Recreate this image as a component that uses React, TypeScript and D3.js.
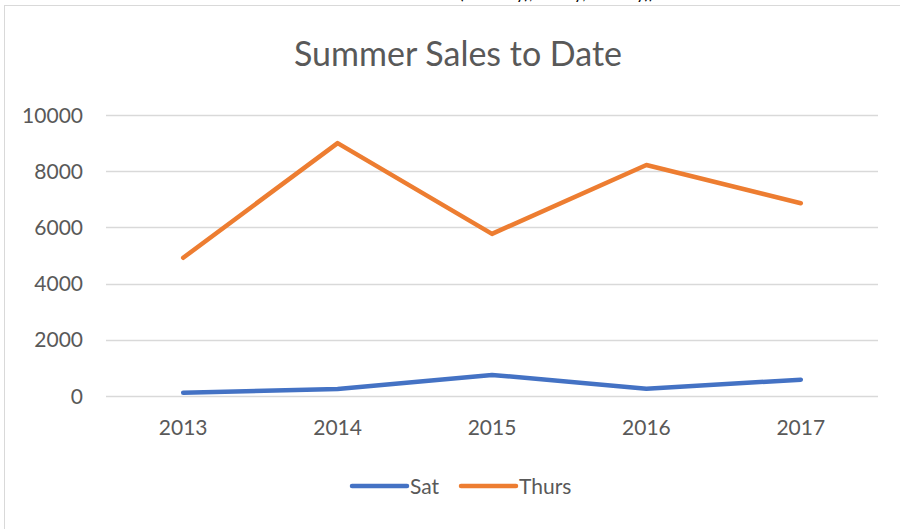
import React, { useRef, useEffect } from "react";
import * as d3 from "d3";

const years = ["2013", "2014", "2015", "2016", "2017"];
const satValues = [120, 250, 750, 260, 580];
const thursValues = [4920, 9000, 5770, 8220, 6860];
const yTicks = [0, 2000, 4000, 6000, 8000, 10000];

const width = 900;
const height = 529;
const margin = { top: 115, right: 22, bottom: 133, left: 106 }; // plot area

const App = () => {
  const svgRef = useRef<SVGSVGElement>(null);

  useEffect(() => {
    const svg = d3.select(svgRef.current);
    svg.selectAll("*").remove();

    const x = d3
      .scaleBand()
      .domain(years)
      .range([margin.left, width - margin.right]);

    const y = d3
      .scaleLinear()
      .domain([0, 10000])
      .range([height - margin.bottom, margin.top]);

    const font = "Lato, 'Open Sans', sans-serif";

    // chart border (cut by the window on the right and bottom)
    svg
      .append("rect")
      .attr("x", 4.5)
      .attr("y", 5.5)
      .attr("width", 910)
      .attr("height", 540)
      .attr("fill", "#fff")
      .attr("stroke", "#d9d9d9");

    // cropped text above the chart
    svg
      .append("text")
      .attr("x", 459)
      .attr("y", -1)
      .attr("font-family", font)
      .attr("font-size", 17)
      .attr("fill", "#000")
      .text("(Monday), Friday, Sunday))");

    // title
    svg
      .append("text")
      .attr("x", 458)
      .attr("y", 66)
      .attr("text-anchor", "middle")
      .attr("font-family", font)
      .attr("font-size", 34)
      .attr("fill", "#595959")
      .text("Summer Sales to Date");

    // gridlines
    svg
      .append("g")
      .selectAll("line")
      .data(yTicks)
      .join("line")
      .attr("x1", margin.left)
      .attr("x2", width - margin.right)
      .attr("y1", (d) => Math.round(y(d)) + 0.5)
      .attr("y2", (d) => Math.round(y(d)) + 0.5)
      .attr("stroke", "#d9d9d9")
      .attr("stroke-width", 1.3);

    // y axis labels
    svg
      .append("g")
      .selectAll("text")
      .data(yTicks)
      .join("text")
      .attr("x", 83)
      .attr("y", (d) => y(d))
      .attr("dy", "0.36em")
      .attr("text-anchor", "end")
      .attr("font-family", font)
      .attr("font-size", 21)
      .attr("fill", "#595959")
      .text((d) => d);

    // x axis labels
    svg
      .append("g")
      .selectAll("text")
      .data(years)
      .join("text")
      .attr("x", (d) => x(d)! + x.bandwidth() / 2)
      .attr("y", 435)
      .attr("text-anchor", "middle")
      .attr("font-family", font)
      .attr("font-size", 21)
      .attr("fill", "#595959")
      .text((d) => d);

    const line = d3
      .line<number>()
      .x((_, i) => x(years[i])! + x.bandwidth() / 2)
      .y((d) => y(d));

    const series = [
      { name: "Sat", values: satValues, color: "#4472C4" },
      { name: "Thurs", values: thursValues, color: "#ED7D31" },
    ];

    series.forEach((s) => {
      svg
        .append("path")
        .datum(s.values)
        .attr("d", line)
        .attr("fill", "none")
        .attr("stroke", s.color)
        .attr("stroke-width", 4.5)
        .attr("stroke-linecap", "round")
        .attr("stroke-linejoin", "round");
    });

    // legend
    const legendX = [352, 461];
    series.forEach((s, i) => {
      const g = svg.append("g").attr("transform", `translate(${legendX[i]},486)`);
      g.append("line")
        .attr("x1", 0)
        .attr("x2", 55)
        .attr("stroke", s.color)
        .attr("stroke-width", 4.5)
        .attr("stroke-linecap", "round");
      g.append("text")
        .attr("x", 58)
        .attr("dy", "0.36em")
        .attr("font-family", font)
        .attr("font-size", 21)
        .attr("fill", "#595959")
        .text(s.name);
    });
  }, []);

  return (
    <svg
      ref={svgRef}
      width={width}
      height={height}
      style={{ position: "absolute", left: 0, top: 0, background: "#fff" }}
    />
  );
};

export default App;
